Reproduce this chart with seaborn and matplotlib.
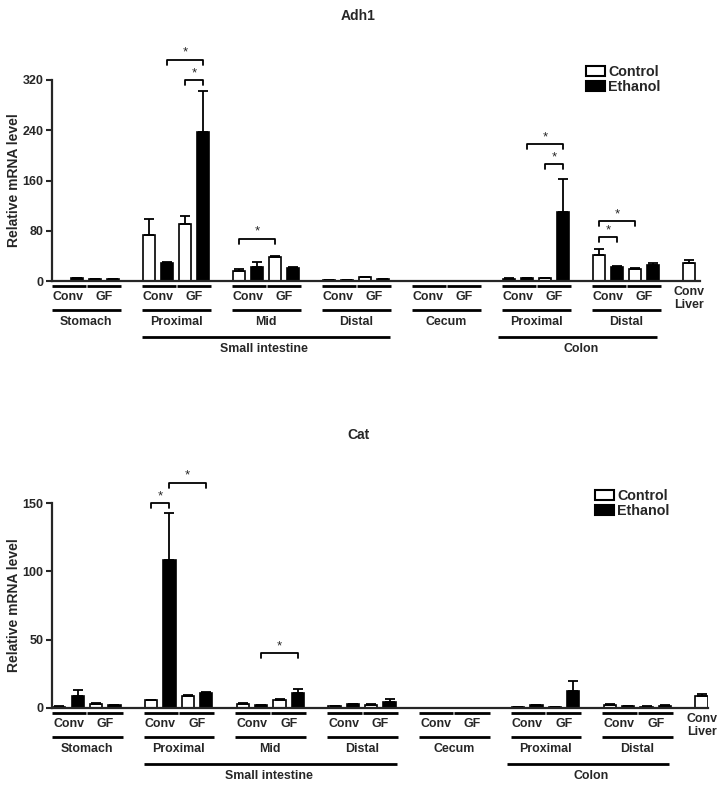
import numpy as np
import pandas as pd
import matplotlib
matplotlib.use("Agg")
import matplotlib.pyplot as plt
import seaborn as sns
from matplotlib.patches import Patch
from matplotlib.transforms import ScaledTranslation

# tissues, each with Conv / GF mice
tissues = ["Stomach", "Proximal", "Mid", "Distal", "Cecum", "Proximal", "Distal"]
conditions = ["Conv", "GF"]

# values per tissue in order (Conv, GF); nan = not measured
adh1_ctrl = [0.3, 3, 74, 91, 16, 38, 1, 6, np.nan, np.nan, 3.5, 4, 42, 18.5]
adh1_ctrl_err = [0, 0.5, 24, 12, 3, 2, 0.2, 0.5, np.nan, np.nan, 0.5, 0.5, 9, 2.5]
adh1_eth = [4, 2.5, 28, 237, 23, 20, 2, 3, np.nan, np.nan, 4, 110, 22, 25]
adh1_eth_err = [0.5, 0.3, 3, 66, 7, 3, 0.3, 0.3, np.nan, np.nan, 0.5, 53, 1.5, 3]
adh1_liver = 28.6
adh1_liver_err = 5.5
# significance brackets: (bar index from, bar index to, height)
adh1_sig = [(6, 8, 352), (7, 8, 320), (10, 12, 67), (26, 28, 218),
            (27, 28, 186), (30, 32, 95), (30, 31, 70)]

cat_ctrl = [1, 3, 5.8, 8.8, 2.9, 5.8, 1.5, 2.2, np.nan, np.nan, 0.7, 0.7, 2.4, 1]
cat_ctrl_err = [0.2, 0.6, 0.3, 0.7, 0.4, 0.5, 0.2, 0.4, np.nan, np.nan, 0.1, 0.1, 0.6, 0.2]
cat_eth = [9, 2.2, 108, 10.7, 2.2, 11.2, 2.7, 4.6, np.nan, np.nan, 2, 12.2, 1.5, 1.7]
cat_eth_err = [4.4, 0.3, 35, 0.7, 0.3, 2.7, 0.3, 2.2, np.nan, np.nan, 0.4, 7.3, 0.2, 0.3]
cat_liver = 8.8
cat_liver_err = 1.4
cat_sig = [(5, 6, 150), (6, 8, 165), (11, 13, 40)]


def make_df(ctrl, ctrl_err, eth, eth_err, liver, liver_err):
    rows = []
    for i in range(len(tissues)):
        base = 5 * i
        for j in range(2):
            k = 2 * i + j
            rows.append((base + 2 * j, ctrl[k], ctrl_err[k], "Control"))
            rows.append((base + 2 * j + 1, eth[k], eth_err[k], "Ethanol"))
    rows.append((35, liver, liver_err, "Control"))
    df = pd.DataFrame(rows, columns=["slot", "value", "err", "treatment"])
    return df.dropna()


sns.set_style("ticks")
plt.rcParams["font.family"] = ["Liberation Sans", "DejaVu Sans"]
plt.rcParams["font.weight"] = "bold"

fig = plt.figure(figsize=(7.21, 7.89), dpi=100)
ax1 = fig.add_axes([52 / 721, (789 - 281) / 789, 648 / 721, 201 / 789])
ax2 = fig.add_axes([52 / 721, (789 - 708) / 789, 656 / 721, 205 / 789])


def below(ax, dy):
    # x in data, y = pixels below the x axis
    return ax.get_xaxis_transform() + ScaledTranslation(0, -dy / 100, fig.dpi_scale_trans)


def draw_panel(ax, df, sig, ymax, yticks, xmax, title, title_y, leg_xy):
    sns.barplot(data=df, x="slot", y="value", hue="treatment", native_scale=True,
                dodge=False, palette={"Control": "white", "Ethanol": "black"},
                edgecolor="black", linewidth=1.2, width=0.67, errorbar=None,
                legend=False, ax=ax)
    ax.errorbar(df["slot"], df["value"], yerr=[np.zeros(len(df)), df["err"]],
                fmt="none", ecolor="black", elinewidth=1.3, capsize=3.5, capthick=1.3)
    ax.set_xlim(-0.4, xmax)
    ax.set_ylim(0, ymax)
    ax.set_yticks(yticks)
    ax.set_xticks([])
    ax.set_xlabel("")
    ax.set_ylabel("Relative mRNA level", fontsize=10, fontweight="bold")
    ax.yaxis.set_label_coords(-0.048, 0.5)
    ax.tick_params(axis="y", labelsize=9, width=1.5, length=4, pad=2)
    for lab in ax.get_yticklabels():
        lab.set_fontweight("bold")
    sns.despine(ax=ax)
    for s in ["left", "bottom"]:
        ax.spines[s].set_linewidth(1.6)

    # category labels under the axis
    lk = dict(color="black", lw=2, clip_on=False, solid_capstyle="butt")
    tk = dict(ha="center", va="center", fontsize=8.9, fontweight="bold")
    for i, name in enumerate(tissues):
        b = 5 * i
        ax.plot([b - 0.4, b + 1.47], [0, 0], transform=below(ax, 5), **lk)
        ax.plot([b + 1.53, b + 3.45], [0, 0], transform=below(ax, 5), **lk)
        ax.text(b + 0.5, 0, conditions[0], transform=below(ax, 16), **tk)
        ax.text(b + 2.5, 0, conditions[1], transform=below(ax, 16), **tk)
        ax.plot([b - 0.4, b + 3.45], [0, 0], transform=below(ax, 29), **lk)
        ax.text(b + 1.5, 0, name, transform=below(ax, 41), **tk)
    ax.plot([4.6, 18.4], [0, 0], transform=below(ax, 56), **lk)
    ax.text(11.4, 0, "Small intestine", transform=below(ax, 68), **tk)
    ax.plot([24.4, 33.2], [0, 0], transform=below(ax, 56), **lk)
    ax.text(29, 0, "Colon", transform=below(ax, 68), **tk)
    ax.text(35, 0, "Conv", transform=below(ax, 11), **tk)
    ax.text(35, 0, "Liver", transform=below(ax, 24), **tk)

    # significance brackets
    drop = 5 * ymax / (ax.get_position().height * 789)
    for x1, x2, y in sig:
        ax.plot([x1, x1, x2, x2], [y - drop, y, y, y - drop], color="black",
                lw=1.3, clip_on=False)
        ax.text((x1 + x2) / 2, y + drop * 0.2, "*", ha="center", va="bottom",
                fontsize=9.5, fontweight="normal")

    fig.text(0.497, title_y, title, ha="center", va="center", fontsize=10,
             fontweight="bold")
    handles = [Patch(facecolor="white", edgecolor="black", lw=1.5, label="Control"),
               Patch(facecolor="black", edgecolor="black", lw=1.5, label="Ethanol")]
    ax.legend(handles=handles, loc="upper left", bbox_to_anchor=leg_xy,
              bbox_transform=fig.transFigure, frameon=False,
              handlelength=1.35, handleheight=0.7, handletextpad=0.2,
              labelspacing=0.05, borderpad=0, borderaxespad=0,
              prop={"weight": "bold", "size": 10.3})


df1 = make_df(adh1_ctrl, adh1_ctrl_err, adh1_eth, adh1_eth_err, adh1_liver, adh1_liver_err)
df2 = make_df(cat_ctrl, cat_ctrl_err, cat_eth, cat_eth_err, cat_liver, cat_liver_err)

draw_panel(ax1, df1, adh1_sig, 320, [0, 80, 160, 240, 320], 35.6, "Adh1",
           1 - 16 / 789, (586 / 721, 1 - 65 / 789))
draw_panel(ax2, df2, cat_sig, 150, [0, 50, 100, 150], 35.35, "Cat",
           1 - 435 / 789, (595 / 721, 1 - 489 / 789))

fig.savefig("out.png", dpi=100)
